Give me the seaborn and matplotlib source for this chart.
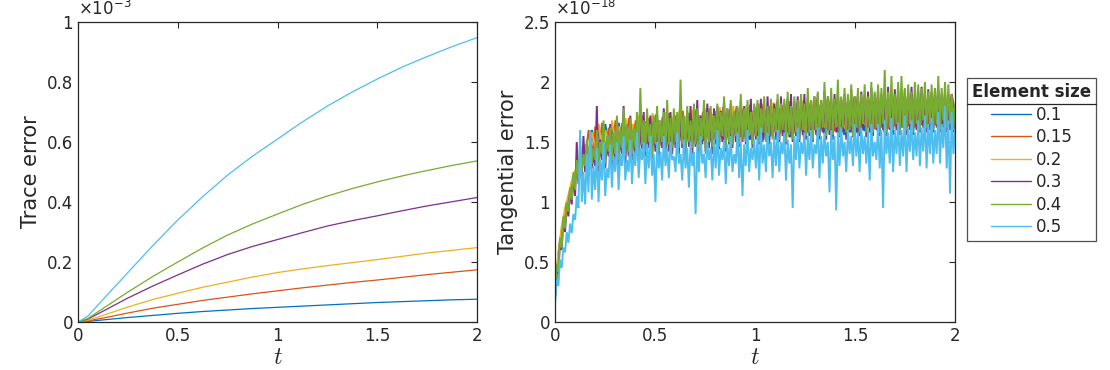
import numpy as np
import pandas as pd
import matplotlib
matplotlib.use("Agg")
import matplotlib.pyplot as plt
from matplotlib.ticker import FuncFormatter, MultipleLocator
from matplotlib.lines import Line2D
import seaborn as sns

# element sizes and MATLAB default colours
sizes = ["0.1", "0.15", "0.2", "0.3", "0.4", "0.5"]
colors = ["#0072BD", "#D95319", "#EDB120", "#7E2F8E", "#77AC30", "#4DBEEE"]

# left panel: trace error (x 1e-3), read at these times
t_trace = [0, 0.05, 0.125, 0.25, 0.375, 0.5, 0.625, 0.75, 0.875, 1,
           1.125, 1.25, 1.375, 1.5, 1.625, 1.75, 1.875, 2]
trace_01 = [0, 0.002, 0.007, 0.015, 0.022, 0.029, 0.035, 0.040, 0.045, 0.049,
            0.053, 0.057, 0.061, 0.065, 0.068, 0.071, 0.074, 0.076]
trace_015 = [0, 0.004, 0.013, 0.030, 0.046, 0.059, 0.072, 0.083, 0.094, 0.104,
             0.114, 0.123, 0.132, 0.140, 0.149, 0.158, 0.166, 0.174]
trace_02 = [0, 0.006, 0.022, 0.050, 0.075, 0.096, 0.116, 0.133, 0.150, 0.165,
            0.177, 0.188, 0.198, 0.208, 0.219, 0.230, 0.239, 0.248]
trace_03 = [0, 0.010, 0.036, 0.080, 0.120, 0.157, 0.193, 0.225, 0.252, 0.275,
            0.298, 0.320, 0.338, 0.354, 0.371, 0.387, 0.401, 0.415]
trace_04 = [0, 0.012, 0.045, 0.100, 0.152, 0.200, 0.247, 0.290, 0.327, 0.360,
            0.392, 0.420, 0.445, 0.467, 0.487, 0.505, 0.522, 0.537]
trace_05 = [0, 0.020, 0.075, 0.165, 0.255, 0.340, 0.418, 0.490, 0.553, 0.610,
            0.667, 0.720, 0.767, 0.810, 0.850, 0.885, 0.918, 0.948]

# right panel: tangential error in units of 1e-20 (i.e. 150 -> 1.5e-18),
# values read along t in [0, 2]
tang_01 = [20, 55, 75, 90, 100, 112, 120, 128, 134, 140, 138, 160, 140, 162, 142, 165, 140, 163, 145, 166,
           142, 168, 145, 165, 146, 170, 144, 167, 148, 170, 146, 168, 148, 172, 147, 170, 150, 172, 148, 171,
           150, 174, 148, 172, 151, 175, 150, 173, 152, 176, 150, 174, 153, 177, 151, 175, 153, 178, 152, 176,
           154, 178, 152, 177, 155, 180, 153, 178, 155, 181, 154, 179, 156, 182, 154, 180, 157, 182, 155, 181,
           157, 183, 156, 181, 158, 184, 156, 182, 158, 184, 157, 183, 159, 185, 157, 183, 159, 186, 158, 184,
           160, 186, 158, 185, 160, 187, 159, 185, 161, 187, 159, 186, 161, 188, 160, 186, 161, 188, 160, 176]
tang_015 = [22, 57, 77, 92, 104, 115, 124, 130, 140, 136, 160, 138, 163, 140, 166, 142, 162, 144, 168, 143,
            166, 146, 170, 145, 168, 147, 172, 146, 170, 148, 173, 147, 171, 150, 174, 149, 172, 151, 176, 150,
            174, 152, 177, 151, 175, 153, 178, 152, 176, 154, 179, 153, 177, 155, 180, 154, 178, 156, 181, 155,
            179, 157, 182, 156, 180, 158, 183, 157, 181, 158, 184, 157, 182, 159, 185, 158, 183, 160, 186, 159,
            184, 160, 186, 159, 185, 161, 187, 160, 185, 161, 188, 160, 186, 162, 188, 161, 187, 162, 189, 161,
            187, 163, 189, 162, 188, 163, 190, 162, 188, 164, 190, 163, 189, 164, 191, 163, 189, 164, 190, 175]
tang_02 = [25, 58, 80, 95, 106, 118, 126, 134, 140, 148, 142, 158, 145, 165, 143, 160, 147, 168, 145, 163,
           148, 170, 146, 165, 150, 172, 148, 166, 151, 174, 149, 168, 152, 175, 150, 170, 153, 176, 151, 171,
           154, 177, 152, 172, 155, 178, 153, 173, 156, 179, 154, 174, 157, 180, 155, 175, 158, 181, 156, 176,
           159, 182, 157, 177, 160, 183, 158, 178, 160, 184, 159, 179, 161, 185, 159, 180, 162, 185, 160, 181,
           162, 186, 161, 182, 163, 187, 161, 183, 163, 187, 162, 184, 164, 188, 162, 184, 164, 188, 163, 185,
           165, 189, 163, 186, 165, 189, 164, 186, 165, 190, 164, 187, 166, 190, 164, 187, 166, 190, 165, 175]
tang_03 = [30, 46, 40, 68, 60, 85, 75, 98, 88, 110, 98, 122,
           105, 150, 115, 140, 120, 155, 125, 145, 122, 150, 128, 140,
           130, 180, 125, 152, 135, 160, 128, 150, 138, 165, 130, 155,
           135, 168, 130, 158, 140, 180, 132, 160, 138, 172, 135, 158,
           140, 170, 135, 165, 145, 175, 138, 162, 145, 172, 135, 168,
           142, 172, 138, 165, 145, 178, 136, 168, 142, 175, 140, 166,
           145, 170, 140, 178, 145, 168, 138, 175, 146, 180, 140, 170,
           146, 185, 140, 172, 148, 178, 142, 182, 145, 175, 140, 178,
           148, 180, 144, 176, 150, 185, 142, 178, 148, 182, 145, 175,
           150, 178, 146, 185, 150, 180, 148, 175, 152, 186, 145, 180,
           152, 182, 148, 186, 150, 178, 152, 188, 148, 180, 154, 182,
           152, 185, 150, 188, 155, 182, 148, 186, 154, 190, 150, 184,
           155, 188, 150, 182, 156, 190, 152, 186, 155, 184, 150, 188,
           156, 190, 152, 185, 158, 192, 152, 188, 156, 186, 152, 190,
           158, 192, 154, 186, 158, 190, 152, 188, 158, 194, 154, 188,
           158, 190, 155, 192, 160, 188, 154, 192, 158, 195, 155, 190,
           160, 194, 155, 190, 160, 192, 155, 196, 160, 190, 156, 194,
           160, 195, 156, 190, 162, 194, 156, 192, 160, 196, 156, 190,
           160, 192, 158, 196, 162, 190, 158, 194, 160, 192, 158, 195,
           162, 194, 158, 190, 162, 192, 158, 188, 160, 190, 158, 172]
tang_04 = [18, 48, 42, 70, 62, 88, 78, 100, 92, 112, 102, 125,
           110, 135, 120, 148, 125, 140, 130, 152, 128, 158, 132, 145,
           135, 160, 130, 150, 140, 168, 132, 155, 142, 162, 135, 158,
           140, 172, 135, 160, 145, 178, 138, 165, 142, 170, 140, 162,
           145, 175, 140, 195, 148, 168, 142, 178, 150, 165, 138, 172,
           148, 180, 142, 168, 150, 175, 140, 185, 148, 170, 145, 178,
           150, 175, 145, 202, 148, 172, 142, 180, 150, 168, 145, 182,
           148, 178, 145, 170, 152, 185, 140, 175, 150, 180, 146, 172,
           152, 182, 146, 175, 155, 188, 145, 178, 150, 185, 148, 176,
           155, 180, 148, 190, 152, 178, 150, 185, 155, 175, 148, 182,
           155, 185, 150, 178, 158, 188, 150, 180, 155, 186, 152, 178,
           158, 190, 152, 182, 160, 186, 150, 192, 156, 180, 152, 188,
           158, 185, 152, 190, 160, 182, 155, 195, 158, 185, 152, 188,
           160, 192, 155, 185, 162, 200, 155, 188, 160, 195, 156, 186,
           162, 202, 155, 188, 162, 195, 158, 190, 160, 198, 155, 188,
           162, 195, 158, 190, 165, 198, 158, 188, 162, 200, 158, 192,
           162, 198, 158, 195, 165, 210, 158, 192, 162, 205, 160, 190,
           165, 200, 158, 205, 162, 195, 160, 198, 165, 192, 158, 200,
           165, 198, 160, 195, 168, 200, 162, 192, 165, 198, 160, 195,
           165, 205, 160, 195, 168, 200, 162, 198, 165, 190, 160, 180]
tang_05 = [15, 35, 30, 52, 45, 62, 58, 75, 66, 82, 74, 90,
           85, 105, 95, 160, 100, 125, 98, 140, 108, 160, 102, 130,
           110, 145, 100, 135, 118, 150, 105, 128, 120, 148, 112, 138,
           125, 150, 110, 140, 130, 155, 118, 135, 125, 152, 115, 142,
           130, 158, 120, 145, 135, 150, 115, 148, 128, 155, 122, 140,
           100, 150, 128, 142, 118, 155, 130, 145, 120, 150, 135, 138,
           125, 158, 132, 140, 118, 152, 128, 145, 112, 150, 130, 142,
           90, 148, 125, 155, 132, 140, 120, 150, 135, 145, 118, 152,
           128, 160, 122, 145, 135, 152, 115, 148, 130, 155, 125, 140,
           132, 158, 120, 150, 105, 148, 130, 160, 125, 145, 135, 152,
           128, 155, 118, 162, 132, 148, 125, 158, 138, 150, 120, 155,
           130, 160, 125, 150, 140, 158, 118, 152, 132, 148, 95, 155,
           135, 162, 128, 150, 140, 158, 122, 155, 135, 160, 128, 148,
           140, 162, 120, 155, 132, 158, 138, 150, 108, 160, 135, 155,
           93, 158, 130, 162, 138, 150, 125, 160, 140, 155, 130, 165,
           138, 158, 125, 162, 140, 155, 132, 160, 118, 165, 138, 150,
           135, 165, 128, 160, 95, 168, 140, 158, 132, 170, 125, 160,
           140, 166, 130, 160, 138, 172, 125, 162, 142, 168, 135, 158,
           138, 168, 130, 162, 142, 172, 128, 165, 140, 170, 132, 160,
           140, 175, 132, 165, 145, 180, 128, 168, 107, 175, 140, 160]
tang_unit = 1e-2  # axis is in units of 1e-18

trace_series = [trace_01, trace_015, trace_02, trace_03, trace_04, trace_05]
tang_series = [tang_01, tang_015, tang_02, tang_03, tang_04, tang_05]

rows = []
for s, vals in zip(sizes, trace_series):
    for t, v in zip(t_trace, vals):
        rows.append((s, t, v))
df_trace = pd.DataFrame(rows, columns=["size", "t", "err"])

rows = []
for s, vals in zip(sizes, tang_series):
    tt = np.linspace(0, 2, len(vals))
    for t, v in zip(tt, vals):
        rows.append((s, t, v * tang_unit))
df_tang = pd.DataFrame(rows, columns=["size", "t", "err"])

sns.set_style("white")
plt.rcParams["font.family"] = ["DejaVu Sans"]
plt.rcParams["mathtext.fontset"] = "cm"

fig = plt.figure(figsize=(11.1, 3.7), dpi=100)
ax1 = fig.add_axes([0.0703, 0.1297, 0.3595, 0.8108])
ax2 = fig.add_axes([0.5, 0.1297, 0.3604, 0.8108])

pal = dict(zip(sizes, colors))
sns.lineplot(data=df_trace, x="t", y="err", hue="size", hue_order=sizes, palette=pal,
             estimator=None, sort=False, linewidth=0.9, legend=False, ax=ax1)
sns.lineplot(data=df_tang, x="t", y="err", hue="size", hue_order=sizes, palette=pal,
             estimator=None, sort=False, linewidth=1.4, legend=False, ax=ax2)
for ln in ax2.get_lines():
    ln.set_solid_joinstyle("miter")

fmt = FuncFormatter(lambda v, p: "%g" % round(v, 6))
for ax, ylab, ymax, ystep, expo in [(ax1, "Trace error", 1.0, 0.2, "-3"),
                                     (ax2, "Tangential error", 2.5, 0.5, "-18")]:
    ax.set_xlim(0, 2)
    ax.set_ylim(0, ymax)
    ax.xaxis.set_major_locator(MultipleLocator(0.5))
    ax.yaxis.set_major_locator(MultipleLocator(ystep))
    ax.xaxis.set_major_formatter(fmt)
    ax.yaxis.set_major_formatter(fmt)
    ax.tick_params(direction="in", length=4, width=0.8, top=True, right=True,
                   labelsize=12, colors="#262626", labelcolor="#262626")
    for sp in ax.spines.values():
        sp.set_color("#262626")
        sp.set_linewidth(0.9)
        sp.set_zorder(5)
    ax.set_xlabel("$t$", fontsize=17, color="#262626", labelpad=0)
    ax.set_ylabel(ylab, fontsize=15, color="#262626", labelpad=4)
    ax.text(0.0, 1.01, r"$\times$10$^{%s}$" % expo, transform=ax.transAxes,
            fontsize=12, color="#262626", ha="left", va="bottom",
            math_fontfamily="dejavusans")

handles = [Line2D([0], [0], color=c, lw=1.0) for c in colors]
leg = ax2.legend(handles, sizes, title="Element size", loc="upper left",
                 bbox_to_anchor=(1.03, 0.813), borderaxespad=0, frameon=True,
                 fancybox=False, edgecolor="#262626", fontsize=12, handlelength=2.4,
                 borderpad=0.3, labelspacing=0.27, handletextpad=0.3)
leg.get_title().set_fontweight("bold")
leg.get_title().set_fontsize(12)
leg.get_frame().set_linewidth(0.9)

# separator below the legend title, as in MATLAB
fig.canvas.draw()
fb = leg.get_frame().get_window_extent()
tb = leg.get_title().get_window_extent()
ysep = (tb.y0 - 3) / fig.bbox.height
fig.add_artist(Line2D([fb.x0 / fig.bbox.width, fb.x1 / fig.bbox.width], [ysep, ysep],
                      color="#262626", lw=0.9, transform=fig.transFigure))

fig.savefig("out.png", dpi=100)
